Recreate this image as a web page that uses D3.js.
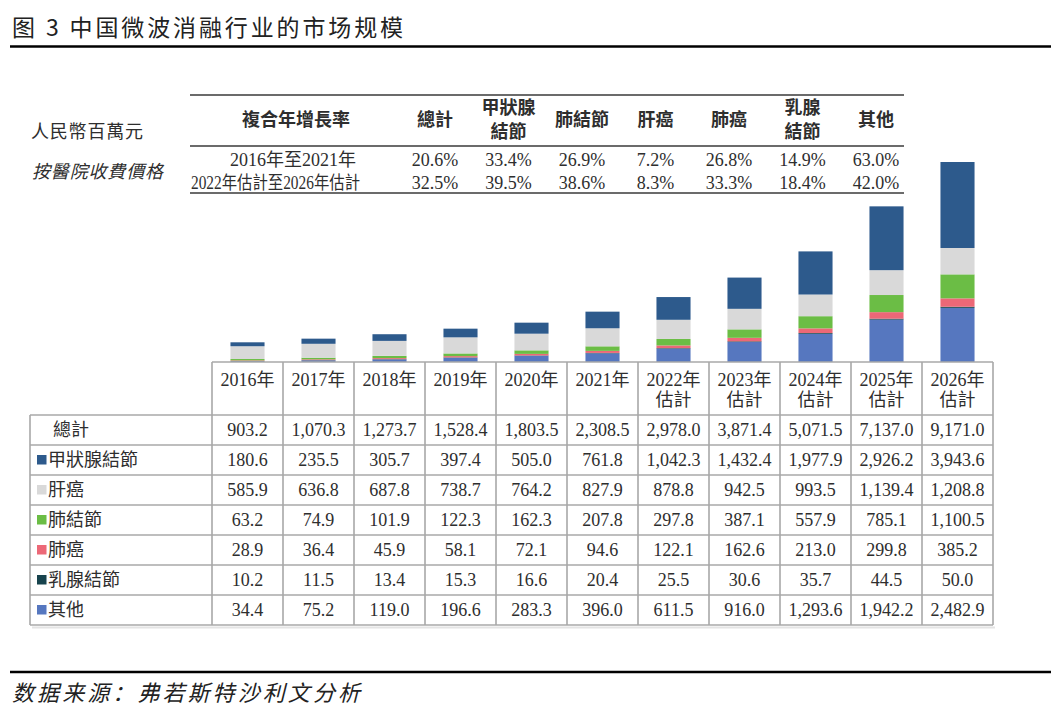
<!DOCTYPE html>
<html lang="zh">
<head>
<meta charset="utf-8">
<title>中国微波消融行业的市场规模</title>
<script src="https://d3js.org/d3.v7.min.js"></script>
<style>
  body { margin: 0; background: #fff; }
  text { font-family: "Liberation Serif", "Noto Sans CJK TC", serif; fill: #2e2e2e; }
</style>
</head>
<body>
<svg id="chart" width="1061" height="713"></svg>
<script>
// ---- data ----
var years = ["2016年", "2017年", "2018年", "2019年", "2020年", "2021年",
             "2022年", "2023年", "2024年", "2025年", "2026年"];
var yearNotes = ["", "", "", "", "", "", "估計", "估計", "估計", "估計", "估計"];

var totals      = [903.2, 1070.3, 1273.7, 1528.4, 1803.5, 2308.5, 2978.0, 3871.4, 5071.5, 7137.0, 9171.0];
var thyroid     = [180.6, 235.5, 305.7, 397.4, 505.0, 761.8, 1042.3, 1432.4, 1977.9, 2926.2, 3943.6];
var liverCancer = [585.9, 636.8, 687.8, 738.7, 764.2, 827.9, 878.8, 942.5, 993.5, 1139.4, 1208.8];
var lungNodule  = [63.2, 74.9, 101.9, 122.3, 162.3, 207.8, 297.8, 387.1, 557.9, 785.1, 1100.5];
var lungCancer  = [28.9, 36.4, 45.9, 58.1, 72.1, 94.6, 122.1, 162.6, 213.0, 299.8, 385.2];
var breast      = [10.2, 11.5, 13.4, 15.3, 16.6, 20.4, 25.5, 30.6, 35.7, 44.5, 50.0];
var others      = [34.4, 75.2, 119.0, 196.6, 283.3, 396.0, 611.5, 916.0, 1293.6, 1942.2, 2482.9];

// table order (top to bottom); bars stack in reverse
var seriesNames  = ["甲狀腺結節", "肝癌", "肺結節", "肺癌", "乳腺結節", "其他"];
var seriesValues = [thyroid, liverCancer, lungNodule, lungCancer, breast, others];
var seriesColors = ["#2d5a8c", "#d9d9d9", "#6bbd45", "#ec6877", "#17434d", "#5677bf"];

var cagrHeads   = ["總計", "甲狀腺\n結節", "肺結節", "肝癌", "肺癌", "乳腺\n結節", "其他"];
var cagrPeriods = ["2016年至2021年", "2022年估計至2026年估計"];
var cagr1621    = ["20.6%", "33.4%", "26.9%", "7.2%", "26.8%", "14.9%", "63.0%"];
var cagr2226    = ["32.5%", "39.5%", "38.6%", "8.3%", "33.3%", "18.4%", "42.0%"];

var svg = d3.select("#chart");
var fmt = d3.format(",.1f");
var GRID = "#a8a8a8";

// ---- title and source ----
svg.append("text").attr("x", 12).attr("y", 36)
  .attr("textLength", 391).attr("lengthAdjust", "spacing")
  .style("font-family", "'Noto Sans CJK SC', sans-serif").style("font-size", "23px")
  .style("fill", "#222").text("图 3 中国微波消融行业的市场规模");
svg.append("line").attr("x1", 10).attr("x2", 1051).attr("y1", 46.5).attr("y2", 46.5)
  .attr("stroke", "#000").attr("stroke-width", 2.5);

svg.append("line").attr("x1", 10).attr("x2", 1051).attr("y1", 672).attr("y2", 672)
  .attr("stroke", "#000").attr("stroke-width", 2.5);
svg.append("text").attr("x", 12).attr("y", 701)
  .attr("textLength", 348).attr("lengthAdjust", "spacing")
  .style("font-family", "'Noto Sans CJK SC', sans-serif").style("font-size", "22px")
  .style("font-style", "italic").style("fill", "#222").text("数据来源：弗若斯特沙利文分析");

// ---- CAGR header table ----
svg.append("text").attr("x", 31).attr("y", 138).attr("textLength", 112)
  .style("font-size", "18px").text("人民幣百萬元");
svg.append("text").attr("x", 32).attr("y", 178).attr("textLength", 131)
  .style("font-size", "18px").style("font-style", "italic").text("按醫院收費價格");

[95, 146, 193].forEach(function (y) {
  svg.append("line").attr("x1", 190).attr("x2", 904).attr("y1", y).attr("y2", y)
    .attr("stroke", "#3a3a3a").attr("stroke-width", 1.3);
});

var cx = d3.scalePoint().domain(d3.range(cagrHeads.length)).range([435, 876]);

svg.append("text").attr("x", 296).attr("y", 126).attr("text-anchor", "middle")
  .style("font-size", "18px").style("font-weight", "bold").text("複合年增長率");

cagrHeads.forEach(function (h, i) {
  var lines = h.split("\n");
  var t = svg.append("text").attr("text-anchor", "middle")
    .style("font-size", "18px").style("font-weight", "bold");
  lines.forEach(function (ln, k) {
    t.append("tspan").attr("x", cx(i))
      .attr("y", lines.length == 1 ? 126 : 114 + k * 24).text(ln);
  });
});

svg.append("text").attr("x", 293).attr("y", 166).attr("text-anchor", "middle")
  .style("font-size", "18px").text(cagrPeriods[0]);
svg.append("text").attr("x", 191).attr("y", 189)
  .attr("textLength", 169).attr("lengthAdjust", "spacingAndGlyphs")
  .style("font-size", "18px").text(cagrPeriods[1]);

[cagr1621, cagr2226].forEach(function (row, r) {
  svg.selectAll(null).data(row).enter().append("text")
    .attr("x", function (d, i) { return cx(i); })
    .attr("y", r == 0 ? 166 : 189)
    .attr("text-anchor", "middle").style("font-size", "18px")
    .text(function (d) { return d; });
});

// ---- stacked bars ----
var x = d3.scaleBand().domain(years).range([212, 993]).paddingInner(0.52).paddingOuter(0.26);
var y = d3.scaleLinear().domain([0, d3.max(totals)]).range([362, 162]);

var rows = years.map(function (yr, i) {
  var o = { year: yr };
  seriesNames.forEach(function (n, s) { o[n] = seriesValues[s][i]; });
  return o;
});
var stackKeys = seriesNames.slice().reverse();
var stacked = d3.stack().keys(stackKeys)(rows);
var color = d3.scaleOrdinal().domain(seriesNames).range(seriesColors);

svg.append("g").selectAll("g").data(stacked).enter().append("g")
  .attr("fill", function (d) { return color(d.key); })
  .selectAll("rect").data(function (d) { return d; }).enter().append("rect")
  .attr("x", function (d) { return x(d.data.year); })
  .attr("width", x.bandwidth())
  .attr("y", function (d) { return y(d[1]); })
  .attr("height", function (d) { return y(d[0]) - y(d[1]); });

// ---- data table under the bars ----
var step = x.step();
var colLeft = function (yr) { return x(yr) - step * x.paddingInner() / 2; };
var colMid = function (yr) { return x(yr) + x.bandwidth() / 2; };
var tableLeft = 30, tableRight = colLeft(years[0]) + step * years.length;
var headTop = 362, bodyTop = 415, rowH = 30;
var tableRows = ["總計"].concat(seriesNames);
var tableVals = [totals].concat(seriesValues);
var bodyBottom = bodyTop + rowH * tableRows.length;

// faint shadow under the table
svg.append("line").attr("x1", tableLeft + 2).attr("x2", tableRight + 2)
  .attr("y1", bodyBottom + 2.5).attr("y2", bodyBottom + 2.5)
  .attr("stroke", "#e4e4e4").attr("stroke-width", 2);
var grid = svg.append("g").attr("stroke", GRID).attr("stroke-width", 1.6);
grid.append("line").attr("x1", colLeft(years[0])).attr("x2", tableRight)
  .attr("y1", headTop).attr("y2", headTop);
d3.range(tableRows.length + 1).forEach(function (r) {
  grid.append("line").attr("x1", tableLeft).attr("x2", tableRight)
    .attr("y1", bodyTop + r * rowH).attr("y2", bodyTop + r * rowH);
});
grid.append("line").attr("x1", tableLeft).attr("x2", tableLeft)
  .attr("y1", bodyTop).attr("y2", bodyBottom);
years.concat([null]).forEach(function (yr, i) {
  var xx = colLeft(years[0]) + i * step;
  grid.append("line").attr("x1", xx).attr("x2", xx).attr("y1", headTop).attr("y2", bodyBottom);
});

// year labels
years.forEach(function (yr, i) {
  var t = svg.append("text").attr("text-anchor", "middle").style("font-size", "18px");
  t.append("tspan").attr("x", colMid(yr)).attr("y", 386).text(yr);
  if (yearNotes[i]) t.append("tspan").attr("x", colMid(yr)).attr("y", 406).text(yearNotes[i]);
});

// row labels with legend swatches
tableRows.forEach(function (name, r) {
  var cy = bodyTop + r * rowH + rowH / 2;
  if (r == 0) {
    svg.append("text").attr("x", 53).attr("y", cy + 6).style("font-size", "18px").text(name);
  } else {
    svg.append("rect").attr("x", 37).attr("y", cy - 5).attr("width", 9.5).attr("height", 9.5)
      .attr("fill", color(name));
    svg.append("text").attr("x", 48).attr("y", cy + 6).style("font-size", "18px").text(name);
  }
  svg.selectAll(null).data(tableVals[r]).enter().append("text")
    .attr("x", function (d, i) { return colMid(years[i]); })
    .attr("y", cy + 6)
    .attr("text-anchor", "middle").style("font-size", "18px")
    .text(function (d) { return fmt(d); });
});
</script>
</body>
</html>
